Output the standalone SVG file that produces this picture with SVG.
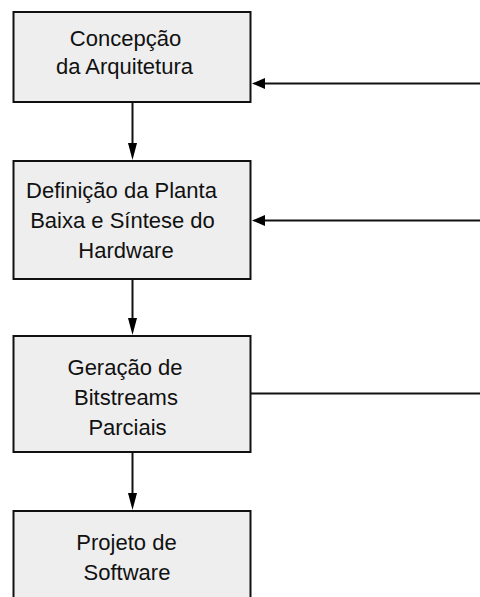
<svg xmlns="http://www.w3.org/2000/svg" width="480" height="597" viewBox="0 0 480 597">
<style>
.box{fill:#eeeeee;stroke:#111;stroke-width:2}
.line{stroke:#111;stroke-width:2;fill:none}
.head{fill:#000;stroke:none}
text{font-family:"Liberation Sans",Arial,sans-serif;font-size:22px;fill:#111;text-anchor:middle}
</style>
<rect width="480" height="597" fill="#fff"/>
<g id="connectors">
<line class="line" x1="132.5" y1="102" x2="132.5" y2="146"/>
<polygon class="head" points="128,143 137,143 132.5,160"/>
<line class="line" x1="132.5" y1="279" x2="132.5" y2="321"/>
<polygon class="head" points="128,318 137,318 132.5,335"/>
<line class="line" x1="132.5" y1="452" x2="132.5" y2="496"/>
<polygon class="head" points="128,493 137,493 132.5,510"/>
<line class="line" x1="262" y1="83.5" x2="480" y2="83.5"/>
<polygon class="head" points="252,83.5 265,78 265,89"/>
<line class="line" x1="262" y1="220.5" x2="480" y2="220.5"/>
<polygon class="head" points="252,220.5 265,215 265,226"/>
<line class="line" x1="250.5" y1="393.5" x2="480" y2="393.5"/>
</g>
<g id="n1">
<rect class="box" x="13.5" y="12" width="237" height="90"/>
<text x="125.5" y="46">Concepção</text>
<text x="124.5" y="74">da Arquitetura</text>
</g>
<g id="n2">
<rect class="box" x="13.5" y="161" width="237" height="118"/>
<text x="121.5" y="197.5">Definição da Planta</text>
<text x="122.5" y="228">Baixa e Síntese do</text>
<text x="126" y="257.5">Hardware</text>
</g>
<g id="n3">
<rect class="box" x="13.5" y="336" width="237" height="116"/>
<text x="125" y="374.5">Geração de</text>
<text x="126" y="405">Bitstreams</text>
<text x="127.5" y="435">Parciais</text>
</g>
<g id="n4">
<rect class="box" x="13.5" y="511" width="237" height="100"/>
<text x="126.5" y="550">Projeto de</text>
<text x="127" y="580">Software</text>
</g>
</svg>
